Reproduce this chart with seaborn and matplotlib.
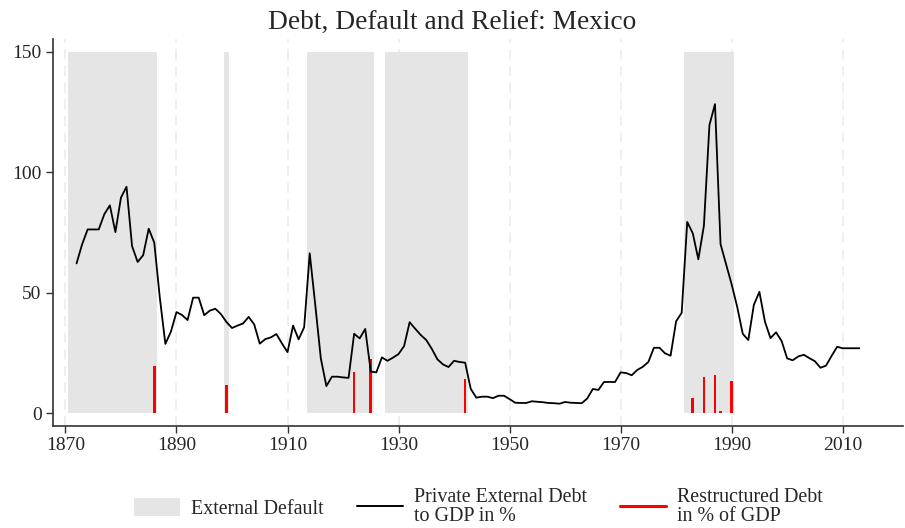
import matplotlib
matplotlib.use("Agg")
import matplotlib.pyplot as plt
from matplotlib.patches import Patch
from matplotlib.lines import Line2D
import seaborn as sns
import pandas as pd

# Private external debt to GDP (%), Mexico
years = list(range(1872, 2014))
debt = [
    62.2, 70.1, 76.3, 76.3, 76.3, 82.6, 86.3, 75.2, 89.5, 94.0,   # 1872-1881
    69.4, 62.8, 65.6, 76.6, 70.8, 48.0, 28.8, 33.9, 42.0, 40.8,   # 1882-1891
    38.7, 48.0, 48.0, 40.7, 42.6, 43.4, 41.2, 37.9, 35.4, 36.4,   # 1892-1901
    37.3, 40.0, 36.9, 28.9, 30.8, 31.5, 32.9, 29.0, 25.4, 36.4,   # 1902-1911
    30.7, 35.7, 66.4, 45.0, 22.8, 11.3, 15.2, 15.2, 14.9, 14.7,   # 1912-1921
    33.0, 31.1, 35.0, 17.3, 17.0, 23.2, 21.8, 23.1, 24.6, 27.9,   # 1922-1931
    37.8, 35.1, 32.5, 30.4, 26.7, 22.4, 20.3, 19.2, 21.8, 21.3,   # 1932-1941
    21.0, 10.2, 6.5, 6.9, 6.9, 6.3, 7.3, 7.3, 5.9, 4.4,           # 1942-1951
    4.3, 4.3, 5.0, 4.8, 4.6, 4.3, 4.2, 4.0, 4.7, 4.4,             # 1952-1961
    4.3, 4.2, 6.2, 10.1, 9.7, 13.0, 13.0, 13.0, 17.0, 16.7,       # 1962-1971
    15.8, 18.0, 19.3, 21.3, 27.2, 27.2, 24.9, 23.9, 38.2, 41.7,   # 1972-1981
    79.4, 74.7, 63.9, 77.8, 119.6, 128.3, 70.2, 61.8, 53.5, 44.2, # 1982-1991
    33.0, 30.4, 45.0, 50.4, 38.0, 31.2, 33.6, 30.0, 22.8, 22.0,   # 1992-2001
    23.6, 24.3, 22.9, 21.6, 18.9, 19.8, 23.8, 27.6, 27.0, 27.0,   # 2002-2011
    27.0, 27.0,                                                   # 2012-2013
]

# Years of external default (first and last year of each episode)
default_start = [1871, 1899, 1914, 1928, 1982]
default_end = [1886, 1899, 1925, 1942, 1990]

# Restructured debt in % of GDP
restr_years = [1886, 1899, 1922, 1925, 1942, 1983, 1985, 1987, 1988, 1990]
restr_values = [19.6, 11.6, 17.1, 22.7, 14.1, 6.5, 15.2, 15.9, 1.0, 13.4]

x_ticks = [1870, 1890, 1910, 1930, 1950, 1970, 1990, 2010]
y_ticks = [0, 50, 100, 150]

sns.set_theme(style="white")
plt.rcParams["font.family"] = ["Liberation Serif", "DejaVu Serif"]

df = pd.DataFrame({"year": years, "debt": debt})

fig = plt.figure(figsize=(9.05, 5.28), dpi=100)
ax = fig.add_axes([0.0582, 0.193, 0.9398, 0.7326])

shade = "#e5e5e5"
for s, e in zip(default_start, default_end):
    ax.fill_between([s - 0.5, e + 0.5], 0, 150, color=shade, linewidth=0, zorder=1)

for xv in x_ticks:
    ax.axvline(xv, color="#ececec", linestyle=(0, (6, 4)), linewidth=1.2, zorder=0.5)

ax.bar(restr_years, restr_values, width=0.48, color="#ff0000", linewidth=0, zorder=3)

sns.lineplot(data=df, x="year", y="debt", color="black", linewidth=1.3, ax=ax, zorder=4)

ax.set_xlim(1867.7, 2020.9)
ax.set_ylim(-5.3, 155.2)
ax.set_xticks(x_ticks)
ax.set_yticks(y_ticks)
ax.set_xlabel("")
ax.set_ylabel("")
ax.tick_params(axis="both", which="both", direction="out", length=5, width=1,
               color="#333333", labelsize=14, bottom=True, left=True, pad=3)
for side in ["top", "right"]:
    ax.spines[side].set_visible(False)
for side in ["left", "bottom"]:
    ax.spines[side].set_color("#333333")
    ax.spines[side].set_linewidth(1.2)

fig.suptitle("Debt, Default and Relief: Mexico", fontsize=19.7, y=0.982, va="top")

handles = [
    Patch(facecolor=shade, edgecolor="none"),
    Line2D([0], [0], color="black", linewidth=1.4),
    Line2D([0], [0], color="#ff0000", linewidth=2.2),
]
labels = ["External Default", "Private External Debt\nto GDP in %",
          "Restructured Debt\nin % of GDP"]
leg = fig.legend(handles, labels, loc="center left", bbox_to_anchor=(134 / 905, 0.04),
                 ncol=3, frameon=False, fontsize=14.4, handlelength=2.3,
                 handleheight=1.05, handletextpad=0.55, columnspacing=1.65,
                 borderpad=0, borderaxespad=0)
for t in leg.get_texts():
    t.set_linespacing(0.95)

fig.savefig("out.png", dpi=100)
